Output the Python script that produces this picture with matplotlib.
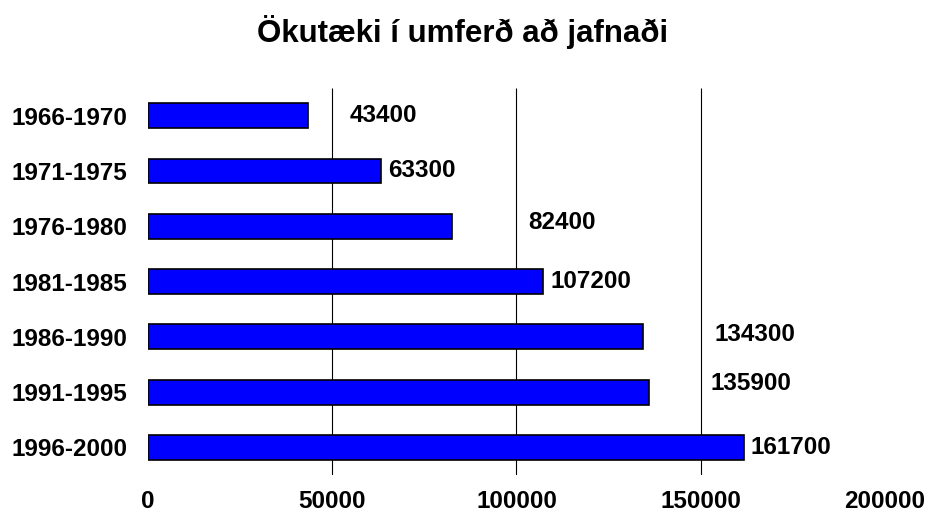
import matplotlib.pyplot as plt
import numpy as np

plt.rcParams['font.family'] = ['Liberation Sans', 'DejaVu Sans']
plt.rcParams['font.weight'] = 'bold'

# data
periods = ["1966-1970", "1971-1975", "1976-1980", "1981-1985",
           "1986-1990", "1991-1995", "1996-2000"]
vehicles = [43400, 63300, 82400, 107200, 134300, 135900, 161700]

# where the (excel-ish) data labels sit
label_x = [54800, 65100, 103300, 109300, 153800, 152700, 163500]
label_dy = [0, 0, -0.07, 0, -0.05, -0.15, 0]

fig = plt.figure(figsize=(9.26, 5.28), dpi=100)
ax = fig.add_axes([0.1598, 0.1004, 0.7959, 0.7329])

y = np.arange(len(periods))
ax.barh(y, vehicles, height=0.45, color='#0000FF', edgecolor='black', linewidth=1.2, zorder=3)

for i in range(len(vehicles)):
    ax.text(label_x[i], y[i] + label_dy[i], str(vehicles[i]), fontsize=17.5,
            fontweight='bold', ha='left', va='center')

ax.set_xlim(0, 200000)
ax.set_ylim(len(periods) - 0.5, -0.5)
# only the inner gridlines are drawn in the original
ax.vlines([50000, 100000, 150000], len(periods) - 0.5, -0.5, color='black', linewidth=0.8, zorder=1)
ax.set_yticks(y)
ax.set_yticklabels(periods, fontsize=17.5, fontweight='bold')
ax.set_xticks([0, 50000, 100000, 150000, 200000])
ax.set_xticklabels(["0", "50000", "100000", "150000", "200000"], fontsize=17.5, fontweight='bold')
ax.tick_params(axis='both', length=0)
ax.tick_params(axis='x', pad=11)
ax.tick_params(axis='y', pad=15)
for s in ax.spines.values():
    s.set_visible(False)

fig.text(0.5, 0.94, "Ökutæki í umferð að jafnaði", fontsize=22.5, fontweight='bold',
         ha='center', va='center')

fig.savefig("out.png", dpi=100)
